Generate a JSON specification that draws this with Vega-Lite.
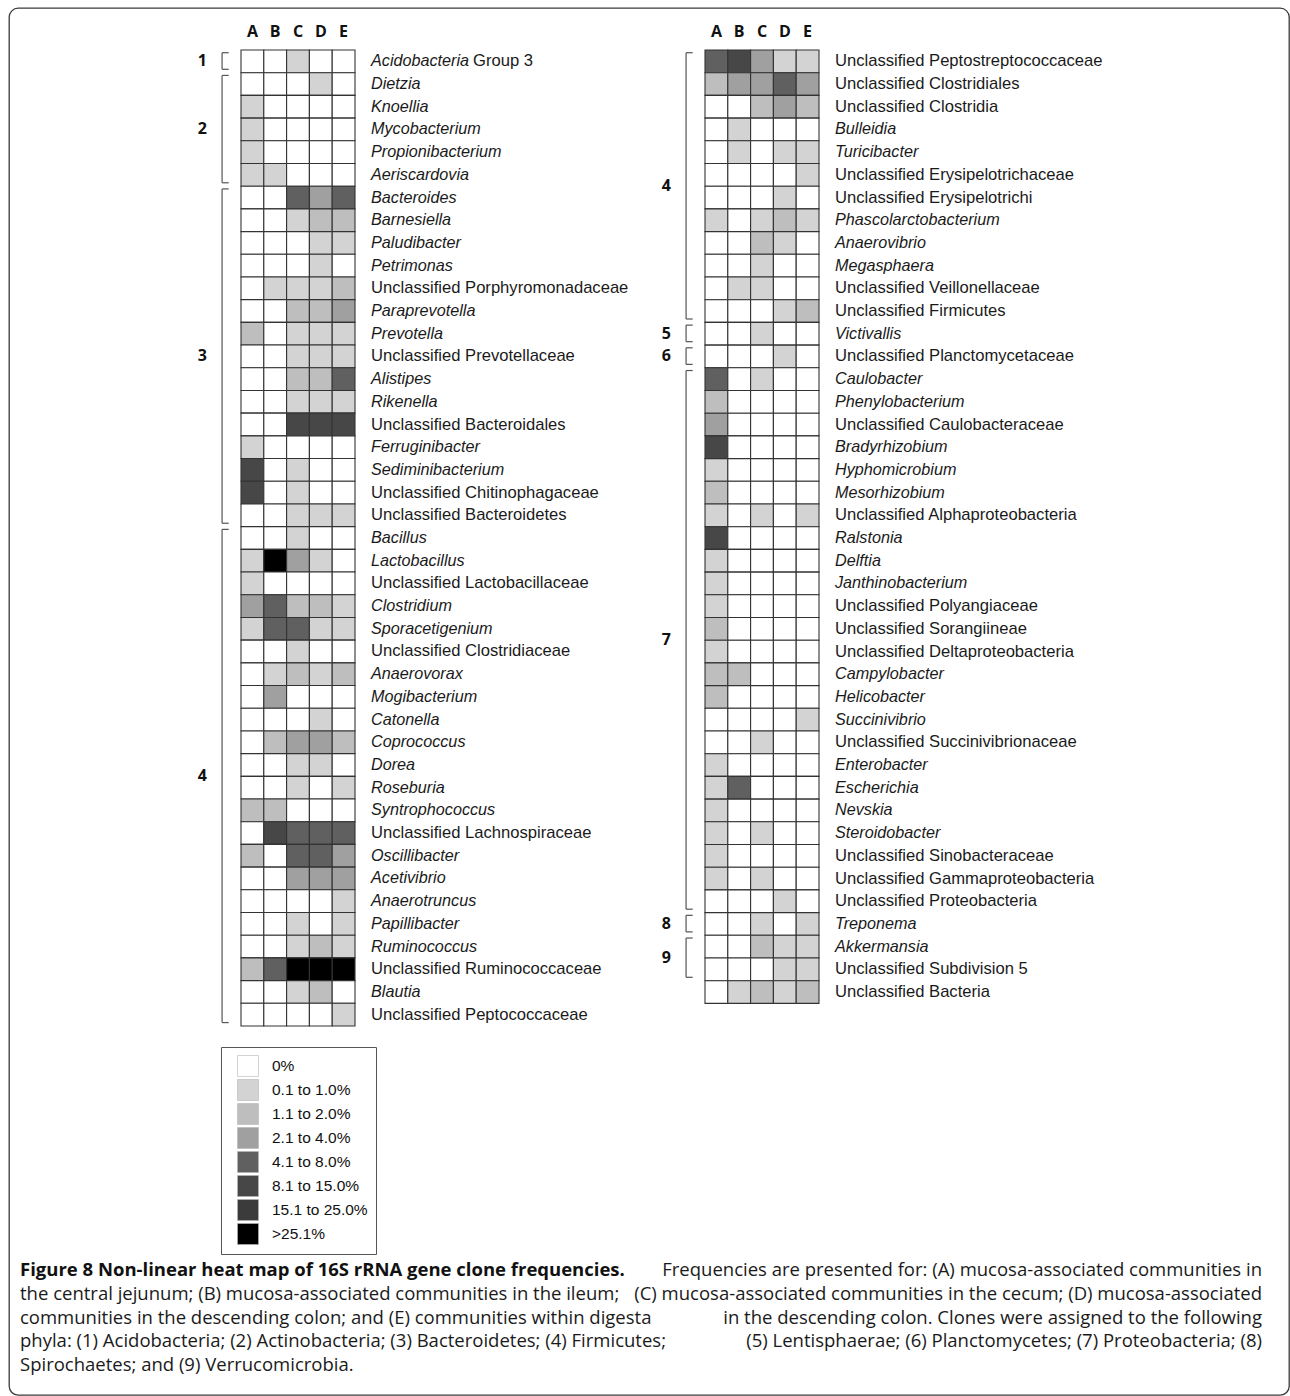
{
"$schema": "https://vega.github.io/schema/vega-lite/v6.json",
"width": 1290, "height": 1396,
"autosize": {"type": "fit", "contains": "padding"},
"padding": {"left": 9, "top": 8, "right": 1, "bottom": 1},
"background": "white",
"config": {"view": {"stroke": "#3a3a3a", "strokeWidth": 1.3, "cornerRadius": 9}},
"datasets": {
"rowsL": [
{"r":"Acidobacteria Group 3","s":"m","lab":"Acidobacteria","suf":"Group 3"},
{"r":"Dietzia","s":"i"},{"r":"Knoellia","s":"i"},{"r":"Mycobacterium","s":"i"},{"r":"Propionibacterium","s":"i"},{"r":"Aeriscardovia","s":"i"},
{"r":"Bacteroides","s":"i"},{"r":"Barnesiella","s":"i"},{"r":"Paludibacter","s":"i"},{"r":"Petrimonas","s":"i"},{"r":"Unclassified Porphyromonadaceae","s":"n"},
{"r":"Paraprevotella","s":"i"},{"r":"Prevotella","s":"i"},{"r":"Unclassified Prevotellaceae","s":"n"},{"r":"Alistipes","s":"i"},{"r":"Rikenella","s":"i"},
{"r":"Unclassified Bacteroidales","s":"n"},{"r":"Ferruginibacter","s":"i"},{"r":"Sediminibacterium","s":"i"},{"r":"Unclassified Chitinophagaceae","s":"n"},
{"r":"Unclassified Bacteroidetes","s":"n"},{"r":"Bacillus","s":"i"},{"r":"Lactobacillus","s":"i"},{"r":"Unclassified Lactobacillaceae","s":"n"},
{"r":"Clostridium","s":"i"},{"r":"Sporacetigenium","s":"i"},{"r":"Unclassified Clostridiaceae","s":"n"},{"r":"Anaerovorax","s":"i"},{"r":"Mogibacterium","s":"i"},
{"r":"Catonella","s":"i"},{"r":"Coprococcus","s":"i"},{"r":"Dorea","s":"i"},{"r":"Roseburia","s":"i"},{"r":"Syntrophococcus","s":"i"},
{"r":"Unclassified Lachnospiraceae","s":"n"},{"r":"Oscillibacter","s":"i"},{"r":"Acetivibrio","s":"i"},{"r":"Anaerotruncus","s":"i"},{"r":"Papillibacter","s":"i"},
{"r":"Ruminococcus","s":"i"},{"r":"Unclassified Ruminococcaceae","s":"n"},{"r":"Blautia","s":"i"},{"r":"Unclassified Peptococcaceae","s":"n"}
],
"rowsR": [
{"r":"Unclassified Peptostreptococcaceae","s":"n"},{"r":"Unclassified Clostridiales","s":"n"},{"r":"Unclassified Clostridia","s":"n"},{"r":"Bulleidia","s":"i"},
{"r":"Turicibacter","s":"i"},{"r":"Unclassified Erysipelotrichaceae","s":"n"},{"r":"Unclassified Erysipelotrichi","s":"n"},{"r":"Phascolarctobacterium","s":"i"},
{"r":"Anaerovibrio","s":"i"},{"r":"Megasphaera","s":"i"},{"r":"Unclassified Veillonellaceae","s":"n"},{"r":"Unclassified Firmicutes","s":"n"},
{"r":"Victivallis","s":"i"},{"r":"Unclassified Planctomycetaceae","s":"n"},{"r":"Caulobacter","s":"i"},{"r":"Phenylobacterium","s":"i"},
{"r":"Unclassified Caulobacteraceae","s":"n"},{"r":"Bradyrhizobium","s":"i"},{"r":"Hyphomicrobium","s":"i"},{"r":"Mesorhizobium","s":"i"},
{"r":"Unclassified Alphaproteobacteria","s":"n"},{"r":"Ralstonia","s":"i"},{"r":"Delftia","s":"i"},{"r":"Janthinobacterium","s":"i"},
{"r":"Unclassified Polyangiaceae","s":"n"},{"r":"Unclassified Sorangiineae","s":"n"},{"r":"Unclassified Deltaproteobacteria","s":"n"},
{"r":"Campylobacter","s":"i"},{"r":"Helicobacter","s":"i"},{"r":"Succinivibrio","s":"i"},{"r":"Unclassified Succinivibrionaceae","s":"n"},
{"r":"Enterobacter","s":"i"},{"r":"Escherichia","s":"i"},{"r":"Nevskia","s":"i"},{"r":"Steroidobacter","s":"i"},{"r":"Unclassified Sinobacteraceae","s":"n"},
{"r":"Unclassified Gammaproteobacteria","s":"n"},{"r":"Unclassified Proteobacteria","s":"n"},{"r":"Treponema","s":"i"},{"r":"Akkermansia","s":"i"},
{"r":"Unclassified Subdivision 5","s":"n"},{"r":"Unclassified Bacteria","s":"n"}
],
"cellsL": [
{"r":"Acidobacteria Group 3","c":"A","v":0},{"r":"Acidobacteria Group 3","c":"B","v":0},{"r":"Acidobacteria Group 3","c":"C","v":1},{"r":"Acidobacteria Group 3","c":"D","v":0},{"r":"Acidobacteria Group 3","c":"E","v":0},
{"r":"Dietzia","c":"A","v":0},{"r":"Dietzia","c":"B","v":0},{"r":"Dietzia","c":"C","v":0},{"r":"Dietzia","c":"D","v":1},{"r":"Dietzia","c":"E","v":0},
{"r":"Knoellia","c":"A","v":1},{"r":"Knoellia","c":"B","v":0},{"r":"Knoellia","c":"C","v":0},{"r":"Knoellia","c":"D","v":0},{"r":"Knoellia","c":"E","v":0},
{"r":"Mycobacterium","c":"A","v":1},{"r":"Mycobacterium","c":"B","v":0},{"r":"Mycobacterium","c":"C","v":0},{"r":"Mycobacterium","c":"D","v":0},{"r":"Mycobacterium","c":"E","v":0},
{"r":"Propionibacterium","c":"A","v":1},{"r":"Propionibacterium","c":"B","v":0},{"r":"Propionibacterium","c":"C","v":0},{"r":"Propionibacterium","c":"D","v":0},{"r":"Propionibacterium","c":"E","v":0},
{"r":"Aeriscardovia","c":"A","v":1},{"r":"Aeriscardovia","c":"B","v":1},{"r":"Aeriscardovia","c":"C","v":0},{"r":"Aeriscardovia","c":"D","v":0},{"r":"Aeriscardovia","c":"E","v":0},
{"r":"Bacteroides","c":"A","v":0},{"r":"Bacteroides","c":"B","v":0},{"r":"Bacteroides","c":"C","v":4},{"r":"Bacteroides","c":"D","v":3},{"r":"Bacteroides","c":"E","v":4},
{"r":"Barnesiella","c":"A","v":0},{"r":"Barnesiella","c":"B","v":0},{"r":"Barnesiella","c":"C","v":1},{"r":"Barnesiella","c":"D","v":2},{"r":"Barnesiella","c":"E","v":2},
{"r":"Paludibacter","c":"A","v":0},{"r":"Paludibacter","c":"B","v":0},{"r":"Paludibacter","c":"C","v":0},{"r":"Paludibacter","c":"D","v":1},{"r":"Paludibacter","c":"E","v":1},
{"r":"Petrimonas","c":"A","v":0},{"r":"Petrimonas","c":"B","v":0},{"r":"Petrimonas","c":"C","v":0},{"r":"Petrimonas","c":"D","v":1},{"r":"Petrimonas","c":"E","v":0},
{"r":"Unclassified Porphyromonadaceae","c":"A","v":0},{"r":"Unclassified Porphyromonadaceae","c":"B","v":1},{"r":"Unclassified Porphyromonadaceae","c":"C","v":1},{"r":"Unclassified Porphyromonadaceae","c":"D","v":1},{"r":"Unclassified Porphyromonadaceae","c":"E","v":2},
{"r":"Paraprevotella","c":"A","v":0},{"r":"Paraprevotella","c":"B","v":0},{"r":"Paraprevotella","c":"C","v":2},{"r":"Paraprevotella","c":"D","v":2},{"r":"Paraprevotella","c":"E","v":3},
{"r":"Prevotella","c":"A","v":2},{"r":"Prevotella","c":"B","v":0},{"r":"Prevotella","c":"C","v":1},{"r":"Prevotella","c":"D","v":1},{"r":"Prevotella","c":"E","v":1},
{"r":"Unclassified Prevotellaceae","c":"A","v":0},{"r":"Unclassified Prevotellaceae","c":"B","v":0},{"r":"Unclassified Prevotellaceae","c":"C","v":1},{"r":"Unclassified Prevotellaceae","c":"D","v":1},{"r":"Unclassified Prevotellaceae","c":"E","v":1},
{"r":"Alistipes","c":"A","v":0},{"r":"Alistipes","c":"B","v":0},{"r":"Alistipes","c":"C","v":2},{"r":"Alistipes","c":"D","v":2},{"r":"Alistipes","c":"E","v":4},
{"r":"Rikenella","c":"A","v":0},{"r":"Rikenella","c":"B","v":0},{"r":"Rikenella","c":"C","v":1},{"r":"Rikenella","c":"D","v":1},{"r":"Rikenella","c":"E","v":1},
{"r":"Unclassified Bacteroidales","c":"A","v":0},{"r":"Unclassified Bacteroidales","c":"B","v":0},{"r":"Unclassified Bacteroidales","c":"C","v":5},{"r":"Unclassified Bacteroidales","c":"D","v":5},{"r":"Unclassified Bacteroidales","c":"E","v":5},
{"r":"Ferruginibacter","c":"A","v":1},{"r":"Ferruginibacter","c":"B","v":0},{"r":"Ferruginibacter","c":"C","v":0},{"r":"Ferruginibacter","c":"D","v":0},{"r":"Ferruginibacter","c":"E","v":0},
{"r":"Sediminibacterium","c":"A","v":5},{"r":"Sediminibacterium","c":"B","v":0},{"r":"Sediminibacterium","c":"C","v":1},{"r":"Sediminibacterium","c":"D","v":0},{"r":"Sediminibacterium","c":"E","v":0},
{"r":"Unclassified Chitinophagaceae","c":"A","v":5},{"r":"Unclassified Chitinophagaceae","c":"B","v":0},{"r":"Unclassified Chitinophagaceae","c":"C","v":1},{"r":"Unclassified Chitinophagaceae","c":"D","v":0},{"r":"Unclassified Chitinophagaceae","c":"E","v":0},
{"r":"Unclassified Bacteroidetes","c":"A","v":0},{"r":"Unclassified Bacteroidetes","c":"B","v":0},{"r":"Unclassified Bacteroidetes","c":"C","v":1},{"r":"Unclassified Bacteroidetes","c":"D","v":1},{"r":"Unclassified Bacteroidetes","c":"E","v":1},
{"r":"Bacillus","c":"A","v":0},{"r":"Bacillus","c":"B","v":0},{"r":"Bacillus","c":"C","v":1},{"r":"Bacillus","c":"D","v":0},{"r":"Bacillus","c":"E","v":0},
{"r":"Lactobacillus","c":"A","v":1},{"r":"Lactobacillus","c":"B","v":7},{"r":"Lactobacillus","c":"C","v":3},{"r":"Lactobacillus","c":"D","v":1},{"r":"Lactobacillus","c":"E","v":0},
{"r":"Unclassified Lactobacillaceae","c":"A","v":1},{"r":"Unclassified Lactobacillaceae","c":"B","v":0},{"r":"Unclassified Lactobacillaceae","c":"C","v":0},{"r":"Unclassified Lactobacillaceae","c":"D","v":0},{"r":"Unclassified Lactobacillaceae","c":"E","v":0},
{"r":"Clostridium","c":"A","v":3},{"r":"Clostridium","c":"B","v":4},{"r":"Clostridium","c":"C","v":2},{"r":"Clostridium","c":"D","v":2},{"r":"Clostridium","c":"E","v":1},
{"r":"Sporacetigenium","c":"A","v":1},{"r":"Sporacetigenium","c":"B","v":4},{"r":"Sporacetigenium","c":"C","v":4},{"r":"Sporacetigenium","c":"D","v":1},{"r":"Sporacetigenium","c":"E","v":1},
{"r":"Unclassified Clostridiaceae","c":"A","v":0},{"r":"Unclassified Clostridiaceae","c":"B","v":0},{"r":"Unclassified Clostridiaceae","c":"C","v":1},{"r":"Unclassified Clostridiaceae","c":"D","v":0},{"r":"Unclassified Clostridiaceae","c":"E","v":0},
{"r":"Anaerovorax","c":"A","v":0},{"r":"Anaerovorax","c":"B","v":1},{"r":"Anaerovorax","c":"C","v":2},{"r":"Anaerovorax","c":"D","v":1},{"r":"Anaerovorax","c":"E","v":2},
{"r":"Mogibacterium","c":"A","v":0},{"r":"Mogibacterium","c":"B","v":3},{"r":"Mogibacterium","c":"C","v":0},{"r":"Mogibacterium","c":"D","v":0},{"r":"Mogibacterium","c":"E","v":0},
{"r":"Catonella","c":"A","v":0},{"r":"Catonella","c":"B","v":0},{"r":"Catonella","c":"C","v":0},{"r":"Catonella","c":"D","v":1},{"r":"Catonella","c":"E","v":0},
{"r":"Coprococcus","c":"A","v":0},{"r":"Coprococcus","c":"B","v":2},{"r":"Coprococcus","c":"C","v":3},{"r":"Coprococcus","c":"D","v":3},{"r":"Coprococcus","c":"E","v":2},
{"r":"Dorea","c":"A","v":0},{"r":"Dorea","c":"B","v":0},{"r":"Dorea","c":"C","v":1},{"r":"Dorea","c":"D","v":1},{"r":"Dorea","c":"E","v":0},
{"r":"Roseburia","c":"A","v":0},{"r":"Roseburia","c":"B","v":0},{"r":"Roseburia","c":"C","v":1},{"r":"Roseburia","c":"D","v":0},{"r":"Roseburia","c":"E","v":1},
{"r":"Syntrophococcus","c":"A","v":2},{"r":"Syntrophococcus","c":"B","v":2},{"r":"Syntrophococcus","c":"C","v":0},{"r":"Syntrophococcus","c":"D","v":0},{"r":"Syntrophococcus","c":"E","v":0},
{"r":"Unclassified Lachnospiraceae","c":"A","v":0},{"r":"Unclassified Lachnospiraceae","c":"B","v":5},{"r":"Unclassified Lachnospiraceae","c":"C","v":4},{"r":"Unclassified Lachnospiraceae","c":"D","v":4},{"r":"Unclassified Lachnospiraceae","c":"E","v":4},
{"r":"Oscillibacter","c":"A","v":2},{"r":"Oscillibacter","c":"B","v":0},{"r":"Oscillibacter","c":"C","v":4},{"r":"Oscillibacter","c":"D","v":4},{"r":"Oscillibacter","c":"E","v":3},
{"r":"Acetivibrio","c":"A","v":0},{"r":"Acetivibrio","c":"B","v":0},{"r":"Acetivibrio","c":"C","v":3},{"r":"Acetivibrio","c":"D","v":3},{"r":"Acetivibrio","c":"E","v":3},
{"r":"Anaerotruncus","c":"A","v":0},{"r":"Anaerotruncus","c":"B","v":0},{"r":"Anaerotruncus","c":"C","v":0},{"r":"Anaerotruncus","c":"D","v":0},{"r":"Anaerotruncus","c":"E","v":1},
{"r":"Papillibacter","c":"A","v":0},{"r":"Papillibacter","c":"B","v":0},{"r":"Papillibacter","c":"C","v":1},{"r":"Papillibacter","c":"D","v":0},{"r":"Papillibacter","c":"E","v":1},
{"r":"Ruminococcus","c":"A","v":0},{"r":"Ruminococcus","c":"B","v":0},{"r":"Ruminococcus","c":"C","v":1},{"r":"Ruminococcus","c":"D","v":2},{"r":"Ruminococcus","c":"E","v":1},
{"r":"Unclassified Ruminococcaceae","c":"A","v":2},{"r":"Unclassified Ruminococcaceae","c":"B","v":4},{"r":"Unclassified Ruminococcaceae","c":"C","v":7},{"r":"Unclassified Ruminococcaceae","c":"D","v":7},{"r":"Unclassified Ruminococcaceae","c":"E","v":7},
{"r":"Blautia","c":"A","v":0},{"r":"Blautia","c":"B","v":0},{"r":"Blautia","c":"C","v":1},{"r":"Blautia","c":"D","v":2},{"r":"Blautia","c":"E","v":0},
{"r":"Unclassified Peptococcaceae","c":"A","v":0},{"r":"Unclassified Peptococcaceae","c":"B","v":0},{"r":"Unclassified Peptococcaceae","c":"C","v":0},{"r":"Unclassified Peptococcaceae","c":"D","v":0},{"r":"Unclassified Peptococcaceae","c":"E","v":1}
],
"cellsR": [
{"r":"Unclassified Peptostreptococcaceae","c":"A","v":4},{"r":"Unclassified Peptostreptococcaceae","c":"B","v":5},{"r":"Unclassified Peptostreptococcaceae","c":"C","v":3},{"r":"Unclassified Peptostreptococcaceae","c":"D","v":1},{"r":"Unclassified Peptostreptococcaceae","c":"E","v":1},
{"r":"Unclassified Clostridiales","c":"A","v":2},{"r":"Unclassified Clostridiales","c":"B","v":3},{"r":"Unclassified Clostridiales","c":"C","v":3},{"r":"Unclassified Clostridiales","c":"D","v":4},{"r":"Unclassified Clostridiales","c":"E","v":3},
{"r":"Unclassified Clostridia","c":"A","v":0},{"r":"Unclassified Clostridia","c":"B","v":0},{"r":"Unclassified Clostridia","c":"C","v":2},{"r":"Unclassified Clostridia","c":"D","v":3},{"r":"Unclassified Clostridia","c":"E","v":2},
{"r":"Bulleidia","c":"A","v":0},{"r":"Bulleidia","c":"B","v":1},{"r":"Bulleidia","c":"C","v":0},{"r":"Bulleidia","c":"D","v":0},{"r":"Bulleidia","c":"E","v":0},
{"r":"Turicibacter","c":"A","v":0},{"r":"Turicibacter","c":"B","v":1},{"r":"Turicibacter","c":"C","v":0},{"r":"Turicibacter","c":"D","v":1},{"r":"Turicibacter","c":"E","v":1},
{"r":"Unclassified Erysipelotrichaceae","c":"A","v":0},{"r":"Unclassified Erysipelotrichaceae","c":"B","v":0},{"r":"Unclassified Erysipelotrichaceae","c":"C","v":0},{"r":"Unclassified Erysipelotrichaceae","c":"D","v":0},{"r":"Unclassified Erysipelotrichaceae","c":"E","v":1},
{"r":"Unclassified Erysipelotrichi","c":"A","v":0},{"r":"Unclassified Erysipelotrichi","c":"B","v":0},{"r":"Unclassified Erysipelotrichi","c":"C","v":0},{"r":"Unclassified Erysipelotrichi","c":"D","v":1},{"r":"Unclassified Erysipelotrichi","c":"E","v":0},
{"r":"Phascolarctobacterium","c":"A","v":1},{"r":"Phascolarctobacterium","c":"B","v":0},{"r":"Phascolarctobacterium","c":"C","v":1},{"r":"Phascolarctobacterium","c":"D","v":2},{"r":"Phascolarctobacterium","c":"E","v":1},
{"r":"Anaerovibrio","c":"A","v":0},{"r":"Anaerovibrio","c":"B","v":0},{"r":"Anaerovibrio","c":"C","v":2},{"r":"Anaerovibrio","c":"D","v":1},{"r":"Anaerovibrio","c":"E","v":0},
{"r":"Megasphaera","c":"A","v":0},{"r":"Megasphaera","c":"B","v":0},{"r":"Megasphaera","c":"C","v":1},{"r":"Megasphaera","c":"D","v":0},{"r":"Megasphaera","c":"E","v":0},
{"r":"Unclassified Veillonellaceae","c":"A","v":0},{"r":"Unclassified Veillonellaceae","c":"B","v":1},{"r":"Unclassified Veillonellaceae","c":"C","v":1},{"r":"Unclassified Veillonellaceae","c":"D","v":0},{"r":"Unclassified Veillonellaceae","c":"E","v":0},
{"r":"Unclassified Firmicutes","c":"A","v":0},{"r":"Unclassified Firmicutes","c":"B","v":0},{"r":"Unclassified Firmicutes","c":"C","v":0},{"r":"Unclassified Firmicutes","c":"D","v":1},{"r":"Unclassified Firmicutes","c":"E","v":2},
{"r":"Victivallis","c":"A","v":0},{"r":"Victivallis","c":"B","v":0},{"r":"Victivallis","c":"C","v":1},{"r":"Victivallis","c":"D","v":0},{"r":"Victivallis","c":"E","v":0},
{"r":"Unclassified Planctomycetaceae","c":"A","v":0},{"r":"Unclassified Planctomycetaceae","c":"B","v":0},{"r":"Unclassified Planctomycetaceae","c":"C","v":0},{"r":"Unclassified Planctomycetaceae","c":"D","v":1},{"r":"Unclassified Planctomycetaceae","c":"E","v":0},
{"r":"Caulobacter","c":"A","v":4},{"r":"Caulobacter","c":"B","v":0},{"r":"Caulobacter","c":"C","v":1},{"r":"Caulobacter","c":"D","v":0},{"r":"Caulobacter","c":"E","v":0},
{"r":"Phenylobacterium","c":"A","v":2},{"r":"Phenylobacterium","c":"B","v":0},{"r":"Phenylobacterium","c":"C","v":0},{"r":"Phenylobacterium","c":"D","v":0},{"r":"Phenylobacterium","c":"E","v":0},
{"r":"Unclassified Caulobacteraceae","c":"A","v":3},{"r":"Unclassified Caulobacteraceae","c":"B","v":0},{"r":"Unclassified Caulobacteraceae","c":"C","v":0},{"r":"Unclassified Caulobacteraceae","c":"D","v":0},{"r":"Unclassified Caulobacteraceae","c":"E","v":0},
{"r":"Bradyrhizobium","c":"A","v":5},{"r":"Bradyrhizobium","c":"B","v":0},{"r":"Bradyrhizobium","c":"C","v":0},{"r":"Bradyrhizobium","c":"D","v":0},{"r":"Bradyrhizobium","c":"E","v":0},
{"r":"Hyphomicrobium","c":"A","v":1},{"r":"Hyphomicrobium","c":"B","v":0},{"r":"Hyphomicrobium","c":"C","v":0},{"r":"Hyphomicrobium","c":"D","v":0},{"r":"Hyphomicrobium","c":"E","v":0},
{"r":"Mesorhizobium","c":"A","v":2},{"r":"Mesorhizobium","c":"B","v":0},{"r":"Mesorhizobium","c":"C","v":0},{"r":"Mesorhizobium","c":"D","v":0},{"r":"Mesorhizobium","c":"E","v":0},
{"r":"Unclassified Alphaproteobacteria","c":"A","v":1},{"r":"Unclassified Alphaproteobacteria","c":"B","v":0},{"r":"Unclassified Alphaproteobacteria","c":"C","v":1},{"r":"Unclassified Alphaproteobacteria","c":"D","v":0},{"r":"Unclassified Alphaproteobacteria","c":"E","v":1},
{"r":"Ralstonia","c":"A","v":5},{"r":"Ralstonia","c":"B","v":0},{"r":"Ralstonia","c":"C","v":0},{"r":"Ralstonia","c":"D","v":0},{"r":"Ralstonia","c":"E","v":0},
{"r":"Delftia","c":"A","v":1},{"r":"Delftia","c":"B","v":0},{"r":"Delftia","c":"C","v":0},{"r":"Delftia","c":"D","v":0},{"r":"Delftia","c":"E","v":0},
{"r":"Janthinobacterium","c":"A","v":1},{"r":"Janthinobacterium","c":"B","v":0},{"r":"Janthinobacterium","c":"C","v":0},{"r":"Janthinobacterium","c":"D","v":0},{"r":"Janthinobacterium","c":"E","v":0},
{"r":"Unclassified Polyangiaceae","c":"A","v":1},{"r":"Unclassified Polyangiaceae","c":"B","v":0},{"r":"Unclassified Polyangiaceae","c":"C","v":0},{"r":"Unclassified Polyangiaceae","c":"D","v":0},{"r":"Unclassified Polyangiaceae","c":"E","v":0},
{"r":"Unclassified Sorangiineae","c":"A","v":2},{"r":"Unclassified Sorangiineae","c":"B","v":0},{"r":"Unclassified Sorangiineae","c":"C","v":0},{"r":"Unclassified Sorangiineae","c":"D","v":0},{"r":"Unclassified Sorangiineae","c":"E","v":0},
{"r":"Unclassified Deltaproteobacteria","c":"A","v":1},{"r":"Unclassified Deltaproteobacteria","c":"B","v":0},{"r":"Unclassified Deltaproteobacteria","c":"C","v":0},{"r":"Unclassified Deltaproteobacteria","c":"D","v":0},{"r":"Unclassified Deltaproteobacteria","c":"E","v":0},
{"r":"Campylobacter","c":"A","v":2},{"r":"Campylobacter","c":"B","v":2},{"r":"Campylobacter","c":"C","v":0},{"r":"Campylobacter","c":"D","v":0},{"r":"Campylobacter","c":"E","v":0},
{"r":"Helicobacter","c":"A","v":2},{"r":"Helicobacter","c":"B","v":0},{"r":"Helicobacter","c":"C","v":0},{"r":"Helicobacter","c":"D","v":0},{"r":"Helicobacter","c":"E","v":0},
{"r":"Succinivibrio","c":"A","v":0},{"r":"Succinivibrio","c":"B","v":0},{"r":"Succinivibrio","c":"C","v":0},{"r":"Succinivibrio","c":"D","v":0},{"r":"Succinivibrio","c":"E","v":1},
{"r":"Unclassified Succinivibrionaceae","c":"A","v":0},{"r":"Unclassified Succinivibrionaceae","c":"B","v":0},{"r":"Unclassified Succinivibrionaceae","c":"C","v":1},{"r":"Unclassified Succinivibrionaceae","c":"D","v":0},{"r":"Unclassified Succinivibrionaceae","c":"E","v":0},
{"r":"Enterobacter","c":"A","v":1},{"r":"Enterobacter","c":"B","v":0},{"r":"Enterobacter","c":"C","v":0},{"r":"Enterobacter","c":"D","v":0},{"r":"Enterobacter","c":"E","v":0},
{"r":"Escherichia","c":"A","v":1},{"r":"Escherichia","c":"B","v":4},{"r":"Escherichia","c":"C","v":0},{"r":"Escherichia","c":"D","v":0},{"r":"Escherichia","c":"E","v":0},
{"r":"Nevskia","c":"A","v":1},{"r":"Nevskia","c":"B","v":0},{"r":"Nevskia","c":"C","v":0},{"r":"Nevskia","c":"D","v":0},{"r":"Nevskia","c":"E","v":0},
{"r":"Steroidobacter","c":"A","v":1},{"r":"Steroidobacter","c":"B","v":0},{"r":"Steroidobacter","c":"C","v":1},{"r":"Steroidobacter","c":"D","v":0},{"r":"Steroidobacter","c":"E","v":0},
{"r":"Unclassified Sinobacteraceae","c":"A","v":1},{"r":"Unclassified Sinobacteraceae","c":"B","v":0},{"r":"Unclassified Sinobacteraceae","c":"C","v":0},{"r":"Unclassified Sinobacteraceae","c":"D","v":0},{"r":"Unclassified Sinobacteraceae","c":"E","v":0},
{"r":"Unclassified Gammaproteobacteria","c":"A","v":1},{"r":"Unclassified Gammaproteobacteria","c":"B","v":0},{"r":"Unclassified Gammaproteobacteria","c":"C","v":1},{"r":"Unclassified Gammaproteobacteria","c":"D","v":0},{"r":"Unclassified Gammaproteobacteria","c":"E","v":0},
{"r":"Unclassified Proteobacteria","c":"A","v":0},{"r":"Unclassified Proteobacteria","c":"B","v":0},{"r":"Unclassified Proteobacteria","c":"C","v":0},{"r":"Unclassified Proteobacteria","c":"D","v":1},{"r":"Unclassified Proteobacteria","c":"E","v":0},
{"r":"Treponema","c":"A","v":0},{"r":"Treponema","c":"B","v":0},{"r":"Treponema","c":"C","v":1},{"r":"Treponema","c":"D","v":0},{"r":"Treponema","c":"E","v":1},
{"r":"Akkermansia","c":"A","v":0},{"r":"Akkermansia","c":"B","v":0},{"r":"Akkermansia","c":"C","v":2},{"r":"Akkermansia","c":"D","v":1},{"r":"Akkermansia","c":"E","v":1},
{"r":"Unclassified Subdivision 5","c":"A","v":0},{"r":"Unclassified Subdivision 5","c":"B","v":0},{"r":"Unclassified Subdivision 5","c":"C","v":0},{"r":"Unclassified Subdivision 5","c":"D","v":1},{"r":"Unclassified Subdivision 5","c":"E","v":1},
{"r":"Unclassified Bacteria","c":"A","v":0},{"r":"Unclassified Bacteria","c":"B","v":1},{"r":"Unclassified Bacteria","c":"C","v":2},{"r":"Unclassified Bacteria","c":"D","v":1},{"r":"Unclassified Bacteria","c":"E","v":2}
],
"groups": [
{"p":"L","g":"1","first":"Acidobacteria Group 3","last":"Acidobacteria Group 3","mid":"Acidobacteria Group 3","n":1},
{"p":"L","g":"2","first":"Dietzia","last":"Aeriscardovia","mid":"Mycobacterium","n":5},
{"p":"L","g":"3","first":"Bacteroides","last":"Unclassified Bacteroidetes","mid":"Unclassified Prevotellaceae","n":15},
{"p":"L","g":"4","first":"Bacillus","last":"Unclassified Peptococcaceae","mid":"Dorea","n":22},
{"p":"R","g":"4","first":"Unclassified Peptostreptococcaceae","last":"Unclassified Firmicutes","mid":"Unclassified Erysipelotrichaceae","n":12},
{"p":"R","g":"5","first":"Victivallis","last":"Victivallis","mid":"Victivallis","n":1},
{"p":"R","g":"6","first":"Unclassified Planctomycetaceae","last":"Unclassified Planctomycetaceae","mid":"Unclassified Planctomycetaceae","n":1},
{"p":"R","g":"7","first":"Caulobacter","last":"Unclassified Proteobacteria","mid":"Unclassified Sorangiineae","n":24},
{"p":"R","g":"8","first":"Treponema","last":"Treponema","mid":"Treponema","n":1},
{"p":"R","g":"9","first":"Akkermansia","last":"Unclassified Subdivision 5","mid":"Akkermansia","n":2}
],
"caption": [
{"line":1,"a":"start","w":"b","t":"Figure 8 Non-linear heat map of 16S rRNA gene clone frequencies."},
{"line":1,"a":"end","w":"n","t":"Frequencies are presented for: (A) mucosa-associated communities in"},
{"line":2,"a":"start","w":"n","t":"the central jejunum; (B) mucosa-associated communities in the ileum;"},
{"line":2,"a":"end","w":"n","t":"(C) mucosa-associated communities in the cecum; (D) mucosa-associated"},
{"line":3,"a":"start","w":"n","t":"communities in the descending colon; and (E) communities within digesta"},
{"line":3,"a":"end","w":"n","t":"in the descending colon. Clones were assigned to the following"},
{"line":4,"a":"start","w":"n","t":"phyla: (1) Acidobacteria; (2) Actinobacteria; (3) Bacteroidetes; (4) Firmicutes;"},
{"line":4,"a":"end","w":"n","t":"(5) Lentisphaerae; (6) Planctomycetes; (7) Proteobacteria; (8)"},
{"line":5,"a":"start","w":"n","t":"Spirochaetes; and (9) Verrucomicrobia."}
]
},
"layer": [
{
"layer": [
{"data": {"name": "cellsL"},
 "mark": {"type": "rect", "stroke": "#333333", "strokeWidth": 1.1},
 "encoding": {
  "x": {"field": "c", "type": "nominal", "scale": {"type": "band", "domain": ["num","br","A","B","C","D","E"], "paddingInner": 0, "paddingOuter": 0, "range": [186.4, 346]},
        "axis": {"orient": "top", "values": ["A","B","C","D","E"], "title": null, "domain": false, "ticks": false, "tickSize": 0, "grid": false, "labelAngle": 0, "labelPadding": 11, "offset": -42, "labelFont": "Open Sans", "labelFontWeight": "bold", "labelFontSize": 16, "labelColor": "#111"}},
  "y": {"field": "r", "type": "nominal", "scale": {"type": "band", "paddingInner": 0, "paddingOuter": 0, "range": [42, 1018],
        "domain": ["Acidobacteria Group 3","Dietzia","Knoellia","Mycobacterium","Propionibacterium","Aeriscardovia","Bacteroides","Barnesiella","Paludibacter","Petrimonas","Unclassified Porphyromonadaceae","Paraprevotella","Prevotella","Unclassified Prevotellaceae","Alistipes","Rikenella","Unclassified Bacteroidales","Ferruginibacter","Sediminibacterium","Unclassified Chitinophagaceae","Unclassified Bacteroidetes","Bacillus","Lactobacillus","Unclassified Lactobacillaceae","Clostridium","Sporacetigenium","Unclassified Clostridiaceae","Anaerovorax","Mogibacterium","Catonella","Coprococcus","Dorea","Roseburia","Syntrophococcus","Unclassified Lachnospiraceae","Oscillibacter","Acetivibrio","Anaerotruncus","Papillibacter","Ruminococcus","Unclassified Ruminococcaceae","Blautia","Unclassified Peptococcaceae"]}, "axis": null},
  "fill": {"field": "v", "type": "ordinal", "scale": {"domain": [0,1,2,3,4,5,6,7], "range": ["#ffffff","#d3d3d3","#bebebe","#a0a0a0","#606060","#474747","#3b3b3b","#000000"]},
        "legend": {"title": null, "orient": "none", "legendX": 212, "legendY": 1039, "direction": "vertical", "symbolType": "square", "symbolSize": 441, "rowPadding": 0, "labelOffset": 13, "labelFont": "Arial", "labelFontSize": 15.5, "labelColor": "#111", "padding": 8, "symbolOffset": 8, "strokeColor": "#555555", "symbolStrokeColor": "#b5b5b5", "symbolStrokeWidth": 0.6,
                   "labelExpr": "['0%','0.1 to 1.0%','1.1 to 2.0%','2.1 to 4.0%','4.1 to 8.0%','8.1 to 15.0%','15.1 to 25.0%','>25.1%'][datum.value]"}}
 }},
{"data": {"name": "rowsL"}, "transform": [{"filter": "datum.s == 'i'"}],
 "mark": {"type": "text", "align": "left", "baseline": "middle", "dx": 16, "font": "Arial", "fontSize": 16.2, "fontStyle": "italic", "fill": "#1a1a1a"},
 "encoding": {"x": {"datum": "E", "type": "nominal", "bandPosition": 1}, "y": {"field": "r", "type": "nominal"}, "text": {"field": "r"}}},
{"data": {"name": "rowsL"}, "transform": [{"filter": "datum.s == 'n'"}],
 "mark": {"type": "text", "align": "left", "baseline": "middle", "dx": 16, "font": "Arial", "fontSize": 16.6, "fill": "#1a1a1a"},
 "encoding": {"x": {"datum": "E", "type": "nominal", "bandPosition": 1}, "y": {"field": "r", "type": "nominal"}, "text": {"field": "r"}}},
{"data": {"name": "rowsL"}, "transform": [{"filter": "datum.s == 'm'"}],
 "mark": {"type": "text", "align": "left", "baseline": "middle", "dx": 16, "font": "Arial", "fontSize": 16.2, "fontStyle": "italic", "fill": "#1a1a1a"},
 "encoding": {"x": {"datum": "E", "type": "nominal", "bandPosition": 1}, "y": {"field": "r", "type": "nominal"}, "text": {"field": "lab"}}},
{"data": {"name": "rowsL"}, "transform": [{"filter": "datum.s == 'm'"}],
 "mark": {"type": "text", "align": "left", "baseline": "middle", "dx": 118, "font": "Arial", "fontSize": 16.6, "fill": "#1a1a1a"},
 "encoding": {"x": {"datum": "E", "type": "nominal", "bandPosition": 1}, "y": {"field": "r", "type": "nominal"}, "text": {"field": "suf"}}},
{"data": {"name": "groups"}, "transform": [{"filter": "datum.p == 'L'"}],
 "mark": {"type": "rule", "stroke": "#555555", "strokeWidth": 1.2},
 "encoding": {"x": {"datum": "br", "type": "nominal", "bandPosition": 0.17}, "y": {"field": "first", "type": "nominal", "bandPosition": 0.12}, "y2": {"field": "last", "bandPosition": 0.85}}},
{"data": {"name": "groups"}, "transform": [{"filter": "datum.p == 'L'"}],
 "mark": {"type": "rule", "stroke": "#555555", "strokeWidth": 1.2},
 "encoding": {"x": {"datum": "br", "type": "nominal", "bandPosition": 0.17}, "x2": {"datum": "br", "bandPosition": 0.46}, "y": {"field": "first", "type": "nominal", "bandPosition": 0.12}}},
{"data": {"name": "groups"}, "transform": [{"filter": "datum.p == 'L'"}],
 "mark": {"type": "rule", "stroke": "#555555", "strokeWidth": 1.2},
 "encoding": {"x": {"datum": "br", "type": "nominal", "bandPosition": 0.17}, "x2": {"datum": "br", "bandPosition": 0.46}, "y": {"field": "last", "type": "nominal", "bandPosition": 0.85}}},
{"data": {"name": "groups"}, "transform": [{"filter": "datum.p == 'L' && datum.n % 2 == 1"}],
 "mark": {"type": "text", "align": "center", "baseline": "middle", "font": "Open Sans", "fontWeight": "bold", "fontSize": 16, "fill": "#111"},
 "encoding": {"x": {"datum": "num", "type": "nominal", "bandPosition": 0.3}, "y": {"field": "mid", "type": "nominal", "bandPosition": 0.5}, "text": {"field": "g"}}},
{"data": {"name": "groups"}, "transform": [{"filter": "datum.p == 'L' && datum.n % 2 == 0"}],
 "mark": {"type": "text", "align": "center", "baseline": "middle", "font": "Open Sans", "fontWeight": "bold", "fontSize": 16, "fill": "#111"},
 "encoding": {"x": {"datum": "num", "type": "nominal", "bandPosition": 0.3}, "y": {"field": "mid", "type": "nominal", "bandPosition": 1}, "text": {"field": "g"}}}
]
},
{
"layer": [
{"data": {"name": "cellsR"},
 "mark": {"type": "rect", "stroke": "#333333", "strokeWidth": 1.1},
 "encoding": {
  "x": {"field": "c", "type": "nominal", "scale": {"type": "band", "domain": ["num","br","A","B","C","D","E"], "paddingInner": 0, "paddingOuter": 0, "range": [650.4, 810]},
        "axis": {"orient": "top", "values": ["A","B","C","D","E"], "title": null, "domain": false, "ticks": false, "tickSize": 0, "grid": false, "labelAngle": 0, "labelPadding": 11, "offset": -42, "labelFont": "Open Sans", "labelFontWeight": "bold", "labelFontSize": 16, "labelColor": "#111"}},
  "y": {"field": "r", "type": "nominal", "scale": {"type": "band", "paddingInner": 0, "paddingOuter": 0, "range": [42, 995.4],
        "domain": ["Unclassified Peptostreptococcaceae","Unclassified Clostridiales","Unclassified Clostridia","Bulleidia","Turicibacter","Unclassified Erysipelotrichaceae","Unclassified Erysipelotrichi","Phascolarctobacterium","Anaerovibrio","Megasphaera","Unclassified Veillonellaceae","Unclassified Firmicutes","Victivallis","Unclassified Planctomycetaceae","Caulobacter","Phenylobacterium","Unclassified Caulobacteraceae","Bradyrhizobium","Hyphomicrobium","Mesorhizobium","Unclassified Alphaproteobacteria","Ralstonia","Delftia","Janthinobacterium","Unclassified Polyangiaceae","Unclassified Sorangiineae","Unclassified Deltaproteobacteria","Campylobacter","Helicobacter","Succinivibrio","Unclassified Succinivibrionaceae","Enterobacter","Escherichia","Nevskia","Steroidobacter","Unclassified Sinobacteraceae","Unclassified Gammaproteobacteria","Unclassified Proteobacteria","Treponema","Akkermansia","Unclassified Subdivision 5","Unclassified Bacteria"]}, "axis": null},
  "fill": {"field": "v", "type": "ordinal", "scale": {"domain": [0,1,2,3,4,5,6,7], "range": ["#ffffff","#d3d3d3","#bebebe","#a0a0a0","#606060","#474747","#3b3b3b","#000000"]},
        "legend": {"title": null, "orient": "none", "legendX": 212, "legendY": 1039, "direction": "vertical", "symbolType": "square", "symbolSize": 441, "rowPadding": 0, "labelOffset": 13, "labelFont": "Arial", "labelFontSize": 15.5, "labelColor": "#111", "padding": 8, "symbolOffset": 8, "strokeColor": "#555555", "symbolStrokeColor": "#b5b5b5", "symbolStrokeWidth": 0.6,
                   "labelExpr": "['0%','0.1 to 1.0%','1.1 to 2.0%','2.1 to 4.0%','4.1 to 8.0%','8.1 to 15.0%','15.1 to 25.0%','>25.1%'][datum.value]"}}
 }},
{"data": {"name": "rowsR"}, "transform": [{"filter": "datum.s == 'i'"}],
 "mark": {"type": "text", "align": "left", "baseline": "middle", "dx": 16, "font": "Arial", "fontSize": 16.2, "fontStyle": "italic", "fill": "#1a1a1a"},
 "encoding": {"x": {"datum": "E", "type": "nominal", "bandPosition": 1}, "y": {"field": "r", "type": "nominal"}, "text": {"field": "r"}}},
{"data": {"name": "rowsR"}, "transform": [{"filter": "datum.s == 'n'"}],
 "mark": {"type": "text", "align": "left", "baseline": "middle", "dx": 16, "font": "Arial", "fontSize": 16.6, "fill": "#1a1a1a"},
 "encoding": {"x": {"datum": "E", "type": "nominal", "bandPosition": 1}, "y": {"field": "r", "type": "nominal"}, "text": {"field": "r"}}},
{"data": {"name": "groups"}, "transform": [{"filter": "datum.p == 'R'"}],
 "mark": {"type": "rule", "stroke": "#555555", "strokeWidth": 1.2},
 "encoding": {"x": {"datum": "br", "type": "nominal", "bandPosition": 0.17}, "y": {"field": "first", "type": "nominal", "bandPosition": 0.12}, "y2": {"field": "last", "bandPosition": 0.85}}},
{"data": {"name": "groups"}, "transform": [{"filter": "datum.p == 'R'"}],
 "mark": {"type": "rule", "stroke": "#555555", "strokeWidth": 1.2},
 "encoding": {"x": {"datum": "br", "type": "nominal", "bandPosition": 0.17}, "x2": {"datum": "br", "bandPosition": 0.46}, "y": {"field": "first", "type": "nominal", "bandPosition": 0.12}}},
{"data": {"name": "groups"}, "transform": [{"filter": "datum.p == 'R'"}],
 "mark": {"type": "rule", "stroke": "#555555", "strokeWidth": 1.2},
 "encoding": {"x": {"datum": "br", "type": "nominal", "bandPosition": 0.17}, "x2": {"datum": "br", "bandPosition": 0.46}, "y": {"field": "last", "type": "nominal", "bandPosition": 0.85}}},
{"data": {"name": "groups"}, "transform": [{"filter": "datum.p == 'R' && datum.n % 2 == 1"}],
 "mark": {"type": "text", "align": "center", "baseline": "middle", "font": "Open Sans", "fontWeight": "bold", "fontSize": 16, "fill": "#111"},
 "encoding": {"x": {"datum": "num", "type": "nominal", "bandPosition": 0.3}, "y": {"field": "mid", "type": "nominal", "bandPosition": 0.5}, "text": {"field": "g"}}},
{"data": {"name": "groups"}, "transform": [{"filter": "datum.p == 'R' && datum.n % 2 == 0"}],
 "mark": {"type": "text", "align": "center", "baseline": "middle", "font": "Open Sans", "fontWeight": "bold", "fontSize": 16, "fill": "#111"},
 "encoding": {"x": {"datum": "num", "type": "nominal", "bandPosition": 0.3}, "y": {"field": "mid", "type": "nominal", "bandPosition": 1}, "text": {"field": "g"}}}
]
},
{
"data": {"name": "caption"},
"encoding": {
 "x": {"field": "a", "type": "nominal", "scale": {"type": "point", "domain": ["start","end"], "padding": 0, "range": [11, 1253]}, "axis": null},
 "y": {"field": "line", "type": "ordinal", "scale": {"type": "band", "domain": [1,2,3,4,5], "paddingInner": 0, "paddingOuter": 0, "range": [1250, 1369]}, "axis": null},
 "text": {"field": "t"}
},
"layer": [
 {"transform": [{"filter": "datum.w == 'b'"}], "mark": {"type": "text", "align": "left", "baseline": "middle", "font": "Open Sans", "fontSize": 18.5, "fontWeight": "bold", "fill": "#111"}},
 {"transform": [{"filter": "datum.w == 'n' && datum.a == 'start'"}], "mark": {"type": "text", "align": "left", "baseline": "middle", "font": "Open Sans", "fontSize": 18.5, "fill": "#1a1a1a"}},
 {"transform": [{"filter": "datum.w == 'n' && datum.a == 'end'"}], "mark": {"type": "text", "align": "right", "baseline": "middle", "font": "Open Sans", "fontSize": 18.5, "fill": "#1a1a1a"}}
]
}
],
"resolve": {"scale": {"x": "independent", "y": "independent"}}
}
